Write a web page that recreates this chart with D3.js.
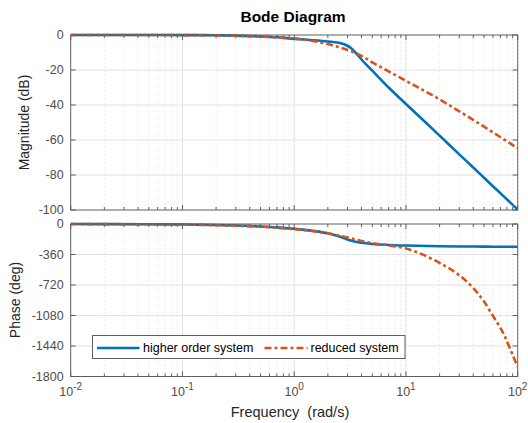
<!DOCTYPE html>
<html>
<head>
<meta charset="utf-8">
<script src="https://cdn.jsdelivr.net/npm/d3@7"></script>
<style>
  body { margin: 0; background: #fff; }
  text { font-family: "Liberation Sans", Arial, sans-serif; }
</style>
</head>
<body>
<div id="chart"></div>
<script>
// frequency samples (rad/s)
const freq = [0.01, 0.05, 0.1, 0.2, 0.3, 0.5, 0.7, 1, 1.5, 2, 2.5, 2.8, 3.2, 3.6, 4, 5, 7, 10, 20, 30, 40, 50, 60, 75, 85, 100];
// magnitude (dB)
const higherMag = [0, 0, -0.05, -0.15, -0.35, -0.8, -1.3, -2.2, -3.0, -3.7, -4.4, -5.3, -7.3, -10.6, -14, -20.4, -30, -39.4, -57.5, -68.2, -75.7, -81.6, -86.4, -92.2, -95.5, -99.8];
const reducedMag = [0, 0, -0.05, -0.2, -0.4, -0.9, -1.4, -2.0, -3.5, -5.2, -6.9, -7.9, -9.2, -10.5, -11.9, -15.6, -20.8, -26.2, -36.8, -43.6, -48.5, -52.4, -55.6, -59.6, -61.8, -64.7];
// phase (deg)
const higherPhase = [-0.6, -3, -6, -12, -17, -29, -40, -57, -82, -110, -145, -168, -195, -212, -222, -236, -247, -254, -262, -265, -266, -267, -268, -268.5, -269, -269];
const reducedPhase = [-0.7, -3.5, -7, -14, -20, -32, -44, -60, -85, -110, -135, -150, -168, -185, -200, -225, -252, -290, -460, -605, -755, -915, -1085, -1300, -1465, -1685];

const magTicks = [0, -20, -40, -60, -80, -100];
const phaseTicks = [0, -360, -720, -1080, -1440, -1800];
const decades = [-2, -1, 0, 1, 2];
const seriesNames = ["higher order system", "reduced system"];

const width = 528, height = 423;
const left = 70.7, right = 517.7;
const blue = "#0072BD", orange = "#D95319";
const axisColor = "#5e5e5e", labelColor = "#4d4d4d";

const svg = d3.select("#chart").append("svg")
  .attr("width", width).attr("height", height);

const x = d3.scaleLog().domain([0.01, 100]).range([left, right]);

const minorVals = [];
decades.slice(0, -1).forEach(e => {
  for (let k = 2; k <= 9; k++) minorVals.push(k * Math.pow(10, e));
});
const majorVals = decades.map(e => Math.pow(10, e));

function panel(top, bottom, domain, ticks, s1, s2, id) {
  const y = d3.scaleLinear().domain(domain).range([bottom, top]);
  const g = svg.append("g");

  // minor grid (dotted)
  g.selectAll(".minor").data(minorVals).enter().append("line")
    .attr("x1", d => x(d)).attr("x2", d => x(d))
    .attr("y1", top).attr("y2", bottom)
    .attr("stroke", "#d8d8d8").attr("stroke-width", 0.8)
    .attr("stroke-dasharray", "1,3");
  // major grid
  g.selectAll(".vmajor").data(majorVals.slice(1, -1)).enter().append("line")
    .attr("x1", d => x(d)).attr("x2", d => x(d))
    .attr("y1", top).attr("y2", bottom)
    .attr("stroke", "#e2e2e2").attr("stroke-width", 1);
  g.selectAll(".hmajor").data(ticks.slice(1, -1)).enter().append("line")
    .attr("x1", left).attr("x2", right)
    .attr("y1", d => y(d)).attr("y2", d => y(d))
    .attr("stroke", "#e2e2e2").attr("stroke-width", 1);

  // tick marks (inward, all four sides)
  const tk = g.append("g").attr("stroke", axisColor).attr("stroke-width", 1);
  majorVals.forEach(v => {
    tk.append("line").attr("x1", x(v)).attr("x2", x(v)).attr("y1", bottom).attr("y2", bottom - 5);
    tk.append("line").attr("x1", x(v)).attr("x2", x(v)).attr("y1", top).attr("y2", top + 5);
  });
  minorVals.forEach(v => {
    tk.append("line").attr("x1", x(v)).attr("x2", x(v)).attr("y1", bottom).attr("y2", bottom - 3);
    tk.append("line").attr("x1", x(v)).attr("x2", x(v)).attr("y1", top).attr("y2", top + 3);
  });
  ticks.forEach(v => {
    tk.append("line").attr("x1", left).attr("x2", left + 5).attr("y1", y(v)).attr("y2", y(v));
    tk.append("line").attr("x1", right).attr("x2", right - 5).attr("y1", y(v)).attr("y2", y(v));
  });

  // y tick labels
  g.selectAll(".ylab").data(ticks).enter().append("text")
    .attr("x", left - 7).attr("y", d => y(d)).attr("dy", "0.35em")
    .attr("text-anchor", "end").attr("font-size", "12.5px")
    .attr("fill", labelColor).text(d => d);

  // curves
  svg.append("clipPath").attr("id", id).append("rect")
    .attr("x", left).attr("y", top - 2).attr("width", right - left).attr("height", bottom - top + 4);
  const line = vals => d3.line()
    .x((d, i) => x(freq[i])).y(d => y(d))
    .curve(d3.curveMonotoneX)(vals);
  svg.append("path").attr("d", line(s1)).attr("clip-path", `url(#${id})`)
    .attr("fill", "none").attr("stroke", blue).attr("stroke-width", 2.6);
  svg.append("path").attr("d", line(s2)).attr("clip-path", `url(#${id})`)
    .attr("fill", "none").attr("stroke", orange).attr("stroke-width", 2.6)
    .attr("stroke-dasharray", "7,3,3,3");

  // box
  svg.append("rect").attr("x", left).attr("y", top)
    .attr("width", right - left).attr("height", bottom - top)
    .attr("fill", "none").attr("stroke", axisColor).attr("stroke-width", 1);
  return y;
}

panel(35, 210, [-100, 0], magTicks, higherMag, reducedMag, "clipMag");
panel(224, 376.5, [-1800, 0], phaseTicks, higherPhase, reducedPhase, "clipPhase");

// x tick labels 10^n
decades.forEach(e => {
  const t = svg.append("text").attr("x", x(Math.pow(10, e))).attr("y", 396)
    .attr("text-anchor", "middle").attr("font-size", "12.5px").attr("fill", labelColor);
  t.append("tspan").text("10");
  t.append("tspan").attr("dy", -6).attr("font-size", "10px").text(e);
});

// titles
svg.append("text").attr("x", 293).attr("y", 21.5).attr("text-anchor", "middle")
  .attr("font-size", "15.5px").attr("font-weight", "bold").attr("fill", "#000")
  .text("Bode Diagram");
svg.append("text").attr("x", 290).attr("y", 417).attr("text-anchor", "middle")
  .attr("font-size", "14.5px").attr("fill", "#262626")
  .text("Frequency\u00a0 (rad/s)");
svg.append("text").attr("transform", "translate(29,122.5) rotate(-90)")
  .attr("text-anchor", "middle").attr("font-size", "14px").attr("fill", "#262626")
  .text("Magnitude (dB)");
svg.append("text").attr("transform", "translate(20,300) rotate(-90)")
  .attr("text-anchor", "middle").attr("font-size", "14px").attr("fill", "#262626")
  .text("Phase (deg)");

// legend
const lg = svg.append("g");
lg.append("rect").attr("x", 92.5).attr("y", 335.5).attr("width", 312.5).attr("height", 23)
  .attr("fill", "#fff").attr("stroke", axisColor).attr("stroke-width", 1);
const legendItems = [
  { name: seriesNames[0], color: blue, dash: null, x0: 97, x1: 139.5, tx: 143 },
  { name: seriesNames[1], color: orange, dash: "7,3,3,3", x0: 264.5, x1: 307.5, tx: 310.5 }
];
legendItems.forEach(it => {
  lg.append("line").attr("x1", it.x0).attr("x2", it.x1).attr("y1", 348).attr("y2", 348)
    .attr("stroke", it.color).attr("stroke-width", 2.6)
    .attr("stroke-dasharray", it.dash);
  lg.append("text").attr("x", it.tx).attr("y", 348).attr("dy", "0.35em")
    .attr("font-size", "12.5px").attr("fill", "#000").text(it.name);
});
</script>
</body>
</html>
